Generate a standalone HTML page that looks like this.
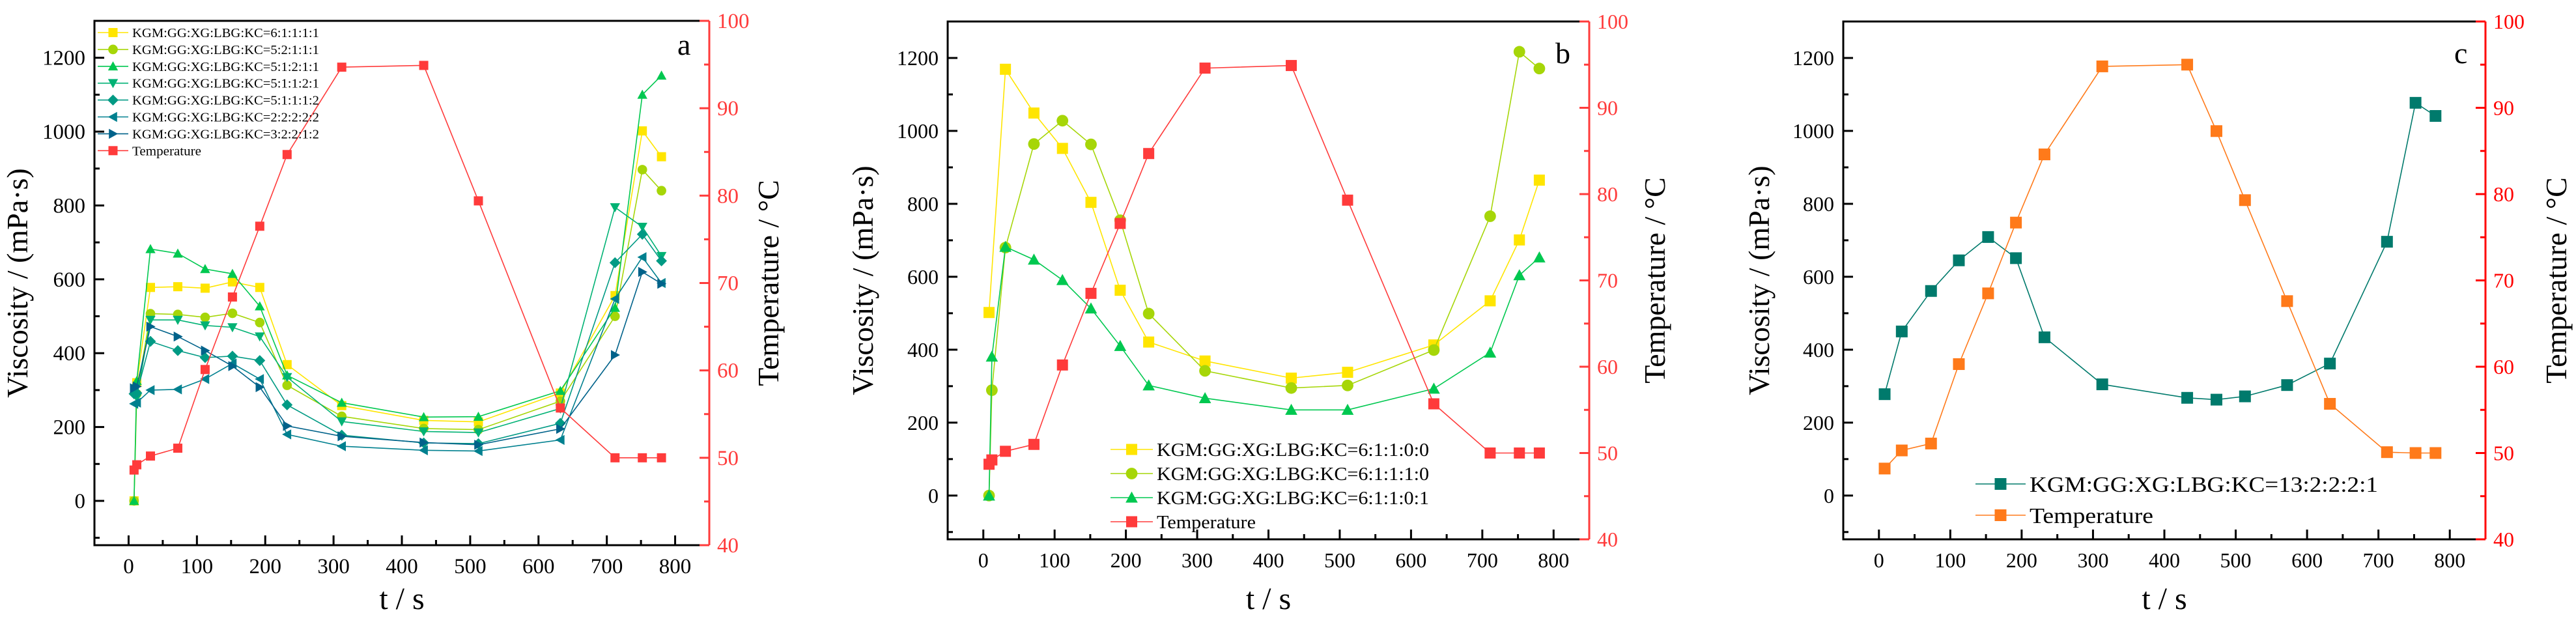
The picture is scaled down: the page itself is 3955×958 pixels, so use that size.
<!DOCTYPE html>
<html><head><meta charset="utf-8">
<style>
html,body{margin:0;padding:0;background:#fff;}
svg{display:block;}
svg text{font-family:"Liberation Serif","Times New Roman","DejaVu Serif",serif;}
</style></head>
<body>
<svg id="chart" width="3955" height="958" viewBox="0 0 3955 958" xmlns="http://www.w3.org/2000/svg" font-family="Liberation Serif, Times New Roman, DejaVu Serif, serif"></svg>
<script>
// ---------- DATA ----------
const timesA = [8,12,32,72,112,152,192,232,312,432,512,632,712,752,780];
const a_s1 = [0,320,578,580,576,593,578,369,258,218,214,292,556,1002,932];
const a_s2 = [0,290,507,505,497,508,483,313,229,196,193,270,500,897,840];
const a_s3 = [0,325,682,670,628,615,527,340,266,227,228,298,523,1100,1152];
const a_s4 = [null,280,490,490,475,470,445,335,215,188,185,250,795,742,663];
const a_s5 = [290,292,432,407,388,392,380,260,178,157,155,210,645,722,650];
const a_s6 = [263,266,300,302,330,372,330,180,148,137,135,165,547,660,590];
const a_s7 = [305,310,472,445,407,365,308,203,175,158,152,195,395,620,588];
const a_temp = [48.6,49.2,50.2,51.1,60.1,68.4,76.5,84.7,94.7,94.9,79.4,55.7,50,50,50];

const timesB = [8,12,31,71,111,151,192,232,311,432,511,632,711,752,780];
const b_s1 = [502,null,1169,1049,952,804,563,421,369,322,338,413,534,701,865];
const b_s2 = [0,289,680,964,1028,963,755,499,342,295,302,399,766,1217,1171];
const b_s3 = [0,381,682,647,591,513,410,302,267,235,235,293,392,604,653];
const b_temp = [48.7,49.2,50.2,51.0,60.2,68.5,76.6,84.7,94.6,94.9,79.3,55.7,50,50,50];

const timesC = [8,32,73,112,153,192,232,313,432,473,513,572,632,712,752,780];
const c_s1 = [278,450,561,645,709,651,434,305,268,263,272,303,362,696,1077,1041];
const c_temp = [48.2,50.3,51.1,60.3,68.5,76.7,84.6,94.8,95.0,87.3,79.3,67.6,55.7,50.1,50,50];

const xTicks = [0,100,200,300,400,500,600,700,800];
const yTicks = [0,200,400,600,800,1000,1200];
const tTicks = [40,50,60,70,80,90,100];

// ---------- DRAW ----------
const NS="http://www.w3.org/2000/svg";
const FONT="Liberation Serif, Times New Roman, DejaVu Serif, serif";
const svg=document.getElementById('chart');
function mk(tag,attrs,parent){const e=document.createElementNS(NS,tag);for(const k in attrs)e.setAttribute(k,attrs[k]);if(tag==='text')e.setAttribute('font-family',FONT);(parent||svg).appendChild(e);return e;}

function marker(g,shape,x,y,s,color){
  const h=s/2;let el;
  if(shape==='square') el=mk('rect',{x:x-h,y:y-h,width:s,height:s,fill:color},g);
  else if(shape==='circle') el=mk('circle',{cx:x,cy:y,r:h*1.05,fill:color},g);
  else if(shape==='up') el=mk('polygon',{points:`${x},${y-h*1.1} ${x+h*1.1},${y+h*0.9} ${x-h*1.1},${y+h*0.9}`,fill:color},g);
  else if(shape==='down') el=mk('polygon',{points:`${x},${y+h*1.1} ${x+h*1.1},${y-h*0.9} ${x-h*1.1},${y-h*0.9}`,fill:color},g);
  else if(shape==='diamond') el=mk('polygon',{points:`${x},${y-h*1.2} ${x+h*1.2},${y} ${x},${y+h*1.2} ${x-h*1.2},${y}`,fill:color},g);
  else if(shape==='left') el=mk('polygon',{points:`${x-h*1.1},${y} ${x+h*0.9},${y-h*1.1} ${x+h*0.9},${y+h*1.1}`,fill:color},g);
  else if(shape==='right') el=mk('polygon',{points:`${x+h*1.1},${y} ${x-h*0.9},${y-h*1.1} ${x-h*0.9},${y+h*1.1}`,fill:color},g);
  
  
  return el;
}

function panel(cfg){
  const {id,L,R,T,B,axisColor,ms,tickFs,letter,letterX,letterY,lt,rt,series,legend}=cfg;
  const g=mk('g',{});
  
  
  const sx=v=>L+(v+50)/900*(R-L);
  const sy=v=>B-(v+120)/1420*(B-T);
  const st=v=>B-(v-40)/60*(B-T);
  const fr=mk('path',{d:`M${R},${T} L${L},${T} L${L},${B} L${R},${B}`,fill:'none',stroke:'#000','stroke-width':3},g);
  
  const ra=mk('line',{x1:R,y1:T,x2:R,y2:B,stroke:axisColor,'stroke-width':3},g);
  
  for(let v=0;v<=800;v+=50){const maj=v%100===0;mk('line',{x1:sx(v),y1:B,x2:sx(v),y2:B-(maj?15:8),stroke:'#000','stroke-width':3},g);}
  xTicks.forEach(v=>{const t=mk('text',{x:sx(v),y:B+43,'text-anchor':'middle','font-size':tickFs,fill:'#000'},g);t.textContent=v;
    });
  for(let v=-100;v<=1300;v+=100){const maj=v%200===0;mk('line',{x1:L,y1:sy(v),x2:L+(maj?15:8),y2:sy(v),stroke:'#000','stroke-width':3},g);}
  yTicks.forEach(v=>{const t=mk('text',{x:L-14,y:sy(v)+11,'text-anchor':'end','font-size':tickFs,fill:'#000'},g);t.textContent=v;
    });
  for(let v=40;v<=100;v+=5){const maj=v%10===0;mk('line',{x1:R,y1:st(v),x2:R-(maj?15:8),y2:st(v),stroke:axisColor,'stroke-width':3},g);}
  tTicks.forEach(v=>{const t=mk('text',{x:R+12,y:st(v)+11,'text-anchor':'start','font-size':tickFs,fill:axisColor},g);t.textContent=v;
    });
  const xt=mk('text',{x:(L+R)/2,y:935,'text-anchor':'middle','font-size':48},g);xt.textContent='t / s';
  
  const yt=mk('text',{x:0,y:0,'text-anchor':'middle','font-size':46,transform:`translate(${lt},${(T+B)/2}) rotate(-90)`},g);yt.textContent='Viscosity / (mPa·s)';
  
  const rtt=mk('text',{x:0,y:0,'text-anchor':'middle','font-size':46,transform:`translate(${rt},${(T+B)/2}) rotate(-90)`},g);rtt.textContent='Temperature / °C';
  
  const lt2=mk('text',{x:letterX,y:letterY,'font-size':46},g);lt2.textContent=letter;
  
  series.forEach(s=>{
    const sg=mk('g',{},g);
    
    
    const yf=s.temp?st:sy;
    let d='';s.vals.forEach((v,i)=>{if(v===null)return;d+=(d?'L':'M')+sx(s.times[i]).toFixed(1)+','+yf(v).toFixed(1)+' ';});
    const ln=mk('path',{d:d,fill:'none',stroke:s.color,'stroke-width':1.6},sg);
    
    s.vals.forEach((v,i)=>{if(v===null)return;marker(sg,s.shape,sx(s.times[i]),yf(v),ms,s.color);});
  });
  const lg=mk('g',{},g);
  
  
  series.forEach((s,i)=>{
    const y=legend.y0+i*legend.dy;
    const e=mk('g',{},lg);
    
    
    mk('line',{x1:legend.x,y1:y,x2:legend.x+legend.lw,y2:y,stroke:s.color,'stroke-width':1.6},e);
    marker(e,s.shape,legend.x+legend.lw/2,y,legend.ms,s.color);
    const t=mk('text',{x:legend.x+legend.lw+6,y:y+legend.fs*0.35,'font-size':legend.fs,textLength:s.label==='Temperature'?legend.tw2:legend.tw,lengthAdjust:'spacingAndGlyphs'},e);
    t.textContent=s.label;
  });
}

panel({id:'a',L:145,R:1089,T:32,B:837,axisColor:'#FF3B3B',ms:14,tickFs:33,letter:'a',letterX:1040,letterY:84,lt:42,rt:1195,
  series:[
    {name:'6-1-1-1-1',label:'KGM:GG:XG:LBG:KC=6:1:1:1:1',times:timesA,vals:a_s1,color:'#FFE500',shape:'square'},
    {name:'5-2-1-1-1',label:'KGM:GG:XG:LBG:KC=5:2:1:1:1',times:timesA,vals:a_s2,color:'#A6D608',shape:'circle'},
    {name:'5-1-2-1-1',label:'KGM:GG:XG:LBG:KC=5:1:2:1:1',times:timesA,vals:a_s3,color:'#00C850',shape:'up'},
    {name:'5-1-1-2-1',label:'KGM:GG:XG:LBG:KC=5:1:1:2:1',times:timesA,vals:a_s4,color:'#00B274',shape:'down'},
    {name:'5-1-1-1-2',label:'KGM:GG:XG:LBG:KC=5:1:1:1:2',times:timesA,vals:a_s5,color:'#009A84',shape:'diamond'},
    {name:'2-2-2-2-2',label:'KGM:GG:XG:LBG:KC=2:2:2:2:2',times:timesA,vals:a_s6,color:'#00808F',shape:'left'},
    {name:'3-2-2-1-2',label:'KGM:GG:XG:LBG:KC=3:2:2:1:2',times:timesA,vals:a_s7,color:'#00628A',shape:'right'},
    {name:'temperature',label:'Temperature',times:timesA,vals:a_temp,color:'#FF3B3B',shape:'square',temp:true}
  ],
  legend:{x:150,y0:50,dy:25.9,lw:47,ms:14,fs:20,tw:287,tw2:106}
});

panel({id:'b',L:1455,R:2440,T:33,B:828,axisColor:'#FF3B3B',ms:17,tickFs:32,letter:'b',letterX:2388,letterY:97,lt:1340,rt:2556,
  series:[
    {name:'6-1-1-0-0',label:'KGM:GG:XG:LBG:KC=6:1:1:0:0',times:timesB,vals:b_s1,color:'#FFE500',shape:'square'},
    {name:'6-1-1-1-0',label:'KGM:GG:XG:LBG:KC=6:1:1:1:0',times:timesB,vals:b_s2,color:'#A6D608',shape:'circle'},
    {name:'6-1-1-0-1',label:'KGM:GG:XG:LBG:KC=6:1:1:0:1',times:timesB,vals:b_s3,color:'#00C850',shape:'up'},
    {name:'temperature',label:'Temperature',times:timesB,vals:b_temp,color:'#FF3B3B',shape:'square',temp:true}
  ],
  legend:{x:1705,y0:690,dy:37,lw:65,ms:17,fs:28,tw:418,tw2:152}
});

panel({id:'c',L:2830,R:3816,T:33,B:828,axisColor:'#FF0000',ms:18,tickFs:32,letter:'c',letterX:3768,letterY:97,lt:2716,rt:3940,
  series:[
    {name:'13-2-2-2-1',label:'KGM:GG:XG:LBG:KC=13:2:2:2:1',times:timesC,vals:c_s1,color:'#007A6C',shape:'square'},
    {name:'temperature',label:'Temperature',times:timesC,vals:c_temp,color:'#FF7A1A',shape:'square',temp:true}
  ],
  legend:{x:3033,y0:743,dy:48,lw:77,ms:18,fs:34,tw:535,tw2:190}
});
</script>
</body></html>
